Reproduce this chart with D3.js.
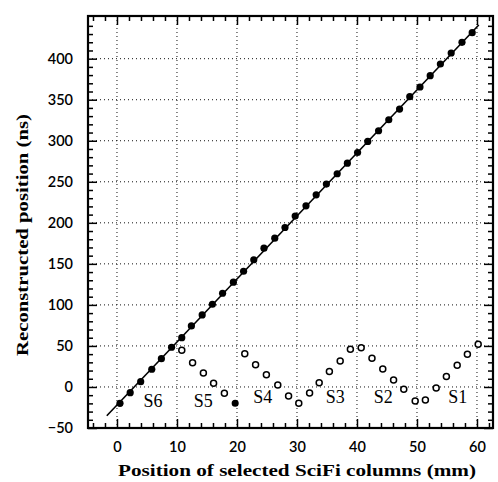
<!DOCTYPE html>
<html>
<head>
<meta charset="utf-8">
<script src="https://cdn.jsdelivr.net/npm/d3@7"></script>
<style>
  html, body { margin: 0; padding: 0; background: #fff; }
  svg { display: block; }
</style>
</head>
<body>
<div id="chart"></div>
<script>
// ---- data ----
const filledX = [0.5, 2.2, 3.95, 5.8, 7.4, 9.1, 10.8, 12.4, 14.2, 15.9, 17.6, 19.4, 21.1, 22.8, 24.5, 26.3, 28.0, 29.7, 31.5, 33.2, 34.9, 36.7, 38.4, 40.1, 41.8, 43.6, 45.3, 47.1, 48.8, 50.5, 52.2, 53.9, 55.7, 57.5, 59.2];
const filledY = [-19.9, -6.9, 6.5, 21.6, 34.5, 48.4, 60.1, 74.4, 87.8, 100.8, 114.2, 127.7, 141, 155, 169.1, 181.3, 194.3, 208.2, 220.7, 234.1, 247.2, 259.8, 272.7, 285.7, 299.2, 312.2, 325.6, 338.6, 353.7, 365.5, 379.3, 393.5, 406.9, 419.9, 431.7];
const openX = [10.8, 12.6, 14.4, 16.1, 17.9, 19.7, 21.3, 23.1, 24.9, 26.8, 28.6, 30.3, 32.1, 33.7, 35.4, 37.2, 38.9, 40.7, 42.5, 44.3, 46.1, 47.8, 49.7, 51.4, 53.2, 54.9, 56.7, 58.4, 60.2];
const openY = [44.7, 29.6, 17, 4.5, -7.7, -19.9, 40.6, 27.2, 15, 2.4, -11, -19.9, -7.3, 5.2, 18.7, 31.7, 45.9, 47.9, 35, 22, 8.5, -2.8, -17, -15.9, -1.2, 12.6, 26.5, 39.9, 52.1];
const openKind = ["o","o","o","o","o","f","o","o","o","o","o","o","o","o","o","o","o","o","o","o","o","o","o","o","o","o","o","o","o"];
const fitX = [-1.7, 60.3];
const fitY = [-35, 441];
const stationLabels = ["S6", "S5", "S4", "S3", "S2", "S1"];
const stationX = [6, 14.4, 24.3, 36.4, 44.4, 56.8];
const stationY = [-19, -19, -15, -15, -15, -14];
const xTicks = [0, 10, 20, 30, 40, 50, 60];
const yTicks = [-50, 0, 50, 100, 150, 200, 250, 300, 350, 400];
const xTitle = "Position of selected SciFi columns (mm)";
const yTitle = "Reconstructed position (ns)";

// ---- layout ----
const W = 498, H = 482;
const margin = {left: 88, top: 16, right: 5, bottom: 54};
const iw = W - margin.left - margin.right;
const ih = H - margin.top - margin.bottom;

const x = d3.scaleLinear().domain([-4.83, 62.67]).range([0, iw]);
const y = d3.scaleLinear().domain([-50, 452]).range([ih, 0]);

const svg = d3.select("#chart").append("svg").attr("width", W).attr("height", H);
const g = svg.append("g").attr("transform", `translate(${margin.left},${margin.top})`);

// grid
const gridStyle = sel => sel.attr("stroke", "#111").attr("stroke-width", 1).attr("stroke-dasharray", "1,3");
g.append("g").selectAll("line").data(xTicks).join("line")
  .attr("x1", d => x(d)).attr("x2", d => x(d)).attr("y1", 0).attr("y2", ih).call(gridStyle);
g.append("g").selectAll("line").data(yTicks.filter(d => d > -50)).join("line")
  .attr("y1", d => y(d)).attr("y2", d => y(d)).attr("x1", 0).attr("x2", iw).call(gridStyle);

// minor tick values
const xMinor = d3.range(-4, 63, 2).filter(v => v % 10 !== 0);
const yMinor = d3.range(-40, 452, 10).filter(v => v % 50 !== 0);

function axisStyle(ax) {
  ax.select(".domain").remove();
  ax.selectAll("line").attr("stroke", "#000").attr("stroke-width", 1.5);
}
const tickFont = "Lato, 'Open Sans', sans-serif";
// bottom
const axB = g.append("g").attr("transform", `translate(0,${ih})`)
  .call(d3.axisBottom(x).tickValues(xTicks).tickSize(-9).tickPadding(14).tickFormat(d3.format("d")));
axisStyle(axB);
axB.selectAll("text").attr("font-family", tickFont).attr("font-size", 14.5).attr("font-weight", 600).attr("fill", "#000");
g.append("g").attr("transform", `translate(0,${ih})`)
  .call(d3.axisBottom(x).tickValues(xMinor).tickSize(-5).tickFormat("")).call(axisStyle);
// top
g.append("g").call(d3.axisTop(x).tickValues(xTicks).tickSize(-9).tickFormat("")).call(axisStyle);
g.append("g").call(d3.axisTop(x).tickValues(xMinor).tickSize(-5).tickFormat("")).call(axisStyle);
// left
const axL = g.append("g")
  .call(d3.axisLeft(y).tickValues(yTicks).tickSize(-9).tickPadding(15).tickFormat(d => d < 0 ? "\u2212" + Math.abs(d) : d));
axisStyle(axL);
axL.selectAll("text").attr("font-family", tickFont).attr("font-size", 14.5).attr("font-weight", 600).attr("fill", "#000");
g.append("g").call(d3.axisLeft(y).tickValues(yMinor).tickSize(-5).tickFormat("")).call(axisStyle);
// right
g.append("g").attr("transform", `translate(${iw},0)`)
  .call(d3.axisRight(y).tickValues(yTicks).tickSize(-9).tickFormat("")).call(axisStyle);
g.append("g").attr("transform", `translate(${iw},0)`)
  .call(d3.axisRight(y).tickValues(yMinor).tickSize(-5).tickFormat("")).call(axisStyle);

// frame
g.append("rect").attr("x", 0).attr("y", 0).attr("width", iw).attr("height", ih)
  .attr("fill", "none").attr("stroke", "#000").attr("stroke-width", 2.2);

// fit line
const fitData = fitX.map((v, i) => [v, fitY[i]]);
g.append("path").datum(fitData)
  .attr("d", d3.line().x(d => x(d[0])).y(d => y(d[1])))
  .attr("stroke", "#000").attr("stroke-width", 1.6).attr("fill", "none");

// filled points
g.append("g").selectAll("circle").data(filledX.map((v, i) => [v, filledY[i]])).join("circle")
  .attr("cx", d => x(d[0])).attr("cy", d => y(d[1])).attr("r", 3.6).attr("fill", "#000");

// open points
g.append("g").selectAll("circle").data(openX.map((v, i) => [v, openY[i], openKind[i]])).join("circle")
  .attr("cx", d => x(d[0])).attr("cy", d => y(d[1]))
  .attr("r", d => d[2] === "f" ? 2.8 : 3.0)
  .attr("fill", d => d[2] === "f" ? "#000" : "#fff")
  .attr("stroke", "#000").attr("stroke-width", 1.5);

// station labels
g.append("g").selectAll("text").data(stationLabels).join("text")
  .attr("x", (d, i) => x(stationX[i])).attr("y", (d, i) => y(stationY[i]))
  .attr("text-anchor", "middle").attr("dominant-baseline", "middle")
  .attr("font-family", "'Liberation Serif', 'Times New Roman', serif").attr("font-size", 18)
  .attr("fill", "#000").text(d => d);

// axis titles
svg.append("text").attr("x", 297).attr("y", 476).attr("text-anchor", "middle")
  .attr("font-family", "'Liberation Serif', serif").attr("font-weight", "bold").attr("font-size", 17.5)
  .attr("textLength", 358).attr("lengthAdjust", "spacingAndGlyphs")
  .attr("fill", "#000").text(xTitle);
svg.append("text").attr("transform", "translate(28,235) rotate(-90)").attr("text-anchor", "middle")
  .attr("font-family", "'Liberation Serif', serif").attr("font-weight", "bold").attr("font-size", 17.5)
  .attr("textLength", 242).attr("lengthAdjust", "spacingAndGlyphs")
  .attr("fill", "#000").text(yTitle);
</script>
</body>
</html>
